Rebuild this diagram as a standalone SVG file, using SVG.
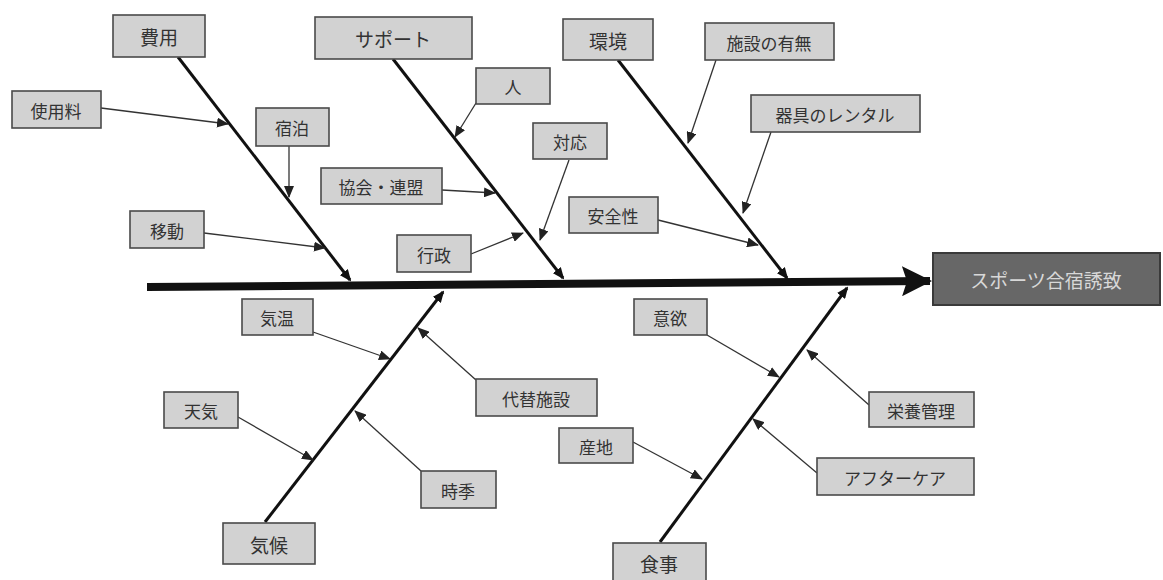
<svg xmlns="http://www.w3.org/2000/svg" width="1163" height="580" viewBox="0 0 1163 580">
<defs>
<style>
.box{fill:#d2d2d2;stroke:#4a4a4a;stroke-width:1.6}
.t{font-family:"Noto Sans CJK JP","Noto Sans",sans-serif;font-size:17px;fill:#333;text-anchor:middle;dominant-baseline:central}
.tc{font-size:19px}
.bone{stroke:#111;stroke-width:3;fill:none}
.sub{stroke:#333;stroke-width:1.3;fill:none}
</style>
<marker id="ah" markerUnits="userSpaceOnUse" markerWidth="12" markerHeight="10" refX="11" refY="5" orient="auto">
<path d="M0,0 L12,5 L0,10 Z" fill="#222"/>
</marker>
<marker id="bh" markerUnits="userSpaceOnUse" markerWidth="12" markerHeight="10" refX="10" refY="5" orient="auto">
<path d="M0,0 L12,5 L0,10 Z" fill="#111"/>
</marker>
<marker id="mh" markerUnits="userSpaceOnUse" markerWidth="30" markerHeight="30" refX="28" refY="15" orient="auto">
<path d="M0,0 L30,15 L0,30 L5,15 Z" fill="#111"/>
</marker>
</defs>
<rect width="1163" height="580" fill="#fff"/>
<g id="connectors">
<line x1="147" y1="287" x2="930" y2="281" stroke="#111" stroke-width="8" marker-end="url(#mh)"/>
<line class="bone" x1="178" y1="57" x2="350" y2="280" marker-end="url(#bh)"/>
<line class="bone" x1="393" y1="59" x2="563" y2="278" marker-end="url(#bh)"/>
<line class="bone" x1="618" y1="60" x2="787" y2="278" marker-end="url(#bh)"/>
<line class="bone" x1="265" y1="522" x2="443" y2="292" marker-end="url(#bh)"/>
<line class="bone" x1="660" y1="542" x2="847" y2="288" marker-end="url(#bh)"/>
<line class="sub" x1="101" y1="108" x2="228" y2="124" marker-end="url(#ah)"/>
<line class="sub" x1="289" y1="146" x2="289" y2="197" marker-end="url(#ah)"/>
<line class="sub" x1="204" y1="233" x2="325" y2="248" marker-end="url(#ah)"/>
<line class="sub" x1="476" y1="103" x2="455" y2="137" marker-end="url(#ah)"/>
<line class="sub" x1="442" y1="190" x2="495" y2="193" marker-end="url(#ah)"/>
<line class="sub" x1="569" y1="160" x2="540" y2="240" marker-end="url(#ah)"/>
<line class="sub" x1="471" y1="254" x2="523" y2="233" marker-end="url(#ah)"/>
<line class="sub" x1="716" y1="60" x2="688" y2="143" marker-end="url(#ah)"/>
<line class="sub" x1="771" y1="132" x2="743" y2="213" marker-end="url(#ah)"/>
<line class="sub" x1="658" y1="220" x2="758" y2="245" marker-end="url(#ah)"/>
<line class="sub" x1="313" y1="332" x2="390" y2="359" marker-end="url(#ah)"/>
<line class="sub" x1="238" y1="417" x2="313" y2="460" marker-end="url(#ah)"/>
<line class="sub" x1="476" y1="380" x2="418" y2="328" marker-end="url(#ah)"/>
<line class="sub" x1="421" y1="471" x2="355" y2="411" marker-end="url(#ah)"/>
<line class="sub" x1="707" y1="335" x2="779" y2="377" marker-end="url(#ah)"/>
<line class="sub" x1="869" y1="405" x2="807" y2="350" marker-end="url(#ah)"/>
<line class="sub" x1="633" y1="442" x2="702" y2="479" marker-end="url(#ah)"/>
<line class="sub" x1="817" y1="473" x2="753" y2="419" marker-end="url(#ah)"/>
</g>
<g id="result"><rect x="933" y="253" width="227" height="52" fill="#676767" stroke="#3a3a3a" stroke-width="2"/><text class="t tc" x="1046" y="279" fill="#d8d8d8" style="fill:#d8d8d8">スポーツ合宿誘致</text></g>
<g id="hiyou"><rect class="box" x="113" y="15" width="92" height="42"/><text class="t tc" x="159" y="36">費用</text></g>
<g id="support"><rect class="box" x="315" y="17" width="157" height="42"/><text class="t tc" x="393" y="38">サポート</text></g>
<g id="kankyo"><rect class="box" x="563" y="19" width="90" height="41"/><text class="t tc" x="608" y="40">環境</text></g>
<g id="kikou"><rect class="box" x="223" y="523" width="92" height="41"/><text class="t tc" x="269" y="544">気候</text></g>
<g id="shokuji"><rect class="box" x="613" y="543" width="93" height="40"/><text class="t tc" x="659" y="563">食事</text></g>
<g id="shiyouryou"><rect class="box" x="12" y="91" width="89" height="37"/><text class="t" x="56" y="110">使用料</text></g>
<g id="shukuhaku"><rect class="box" x="256" y="108" width="73" height="38"/><text class="t" x="292" y="127">宿泊</text></g>
<g id="idou"><rect class="box" x="130" y="211" width="74" height="37"/><text class="t" x="167" y="230">移動</text></g>
<g id="hito"><rect class="box" x="476" y="68" width="74" height="36"/><text class="t" x="513" y="86">人</text></g>
<g id="taiou"><rect class="box" x="533" y="123" width="74" height="36"/><text class="t" x="570" y="141">対応</text></g>
<g id="kyoukai"><rect class="box" x="321" y="168" width="121" height="36"/><text class="t" x="381" y="186">協会・連盟</text></g>
<g id="gyousei"><rect class="box" x="397" y="235" width="74" height="37"/><text class="t" x="434" y="254">行政</text></g>
<g id="anzen"><rect class="box" x="569" y="197" width="89" height="36"/><text class="t" x="613" y="215">安全性</text></g>
<g id="shisetsu"><rect class="box" x="705" y="23" width="129" height="37"/><text class="t" x="769" y="42">施設の有無</text></g>
<g id="kigu"><rect class="box" x="751" y="95" width="169" height="37"/><text class="t" x="835" y="114">器具のレンタル</text></g>
<g id="kion"><rect class="box" x="242" y="299" width="71" height="36"/><text class="t" x="277" y="317">気温</text></g>
<g id="tenki"><rect class="box" x="164" y="392" width="74" height="36"/><text class="t" x="201" y="410">天気</text></g>
<g id="daitai"><rect class="box" x="476" y="379" width="121" height="37"/><text class="t" x="536" y="398">代替施設</text></g>
<g id="jiki"><rect class="box" x="421" y="471" width="75" height="37"/><text class="t" x="458" y="490">時季</text></g>
<g id="iyoku"><rect class="box" x="634" y="299" width="73" height="36"/><text class="t" x="670" y="317">意欲</text></g>
<g id="eiyou"><rect class="box" x="869" y="392" width="105" height="35"/><text class="t" x="921" y="410">栄養管理</text></g>
<g id="sanchi"><rect class="box" x="559" y="428" width="74" height="35"/><text class="t" x="596" y="446">産地</text></g>
<g id="aftercare"><rect class="box" x="817" y="458" width="157" height="37"/><text class="t" x="895" y="477">アフターケア</text></g>
</svg>
